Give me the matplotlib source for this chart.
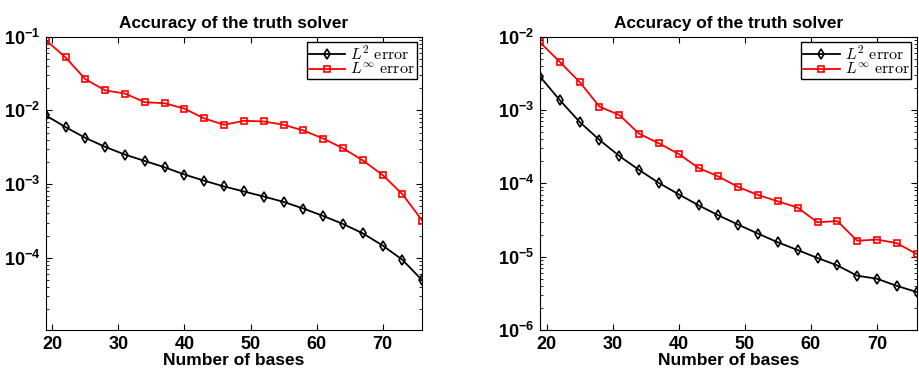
import numpy as np
import matplotlib as mpl
mpl.use('Agg')
import matplotlib.pyplot as plt
from matplotlib.ticker import LogLocator, NullFormatter

mpl.rcParams['mathtext.fontset'] = 'cm'
mpl.rcParams['font.family'] = 'Liberation Sans'

# number of bases
bases = np.arange(19, 77, 3)

# left panel
l2_left = [0.00855, 0.00593, 0.00424, 0.00320, 0.00251, 0.00206, 0.00169, 0.00135,
           0.00111, 0.00093, 0.000794, 0.000679, 0.000574, 0.000466, 0.00037,
           0.000288, 0.000215, 0.000147, 0.0000940, 0.0000495]
linf_left = [0.090, 0.0523, 0.0265, 0.0187, 0.0169, 0.0129, 0.0125, 0.01055,
             0.00778, 0.00638, 0.00722, 0.00708, 0.00638, 0.00534, 0.00415,
             0.00306, 0.00210, 0.00133, 0.00073, 0.00032]

# right panel
l2_right = [0.00285, 0.00136, 0.000686, 0.000390, 0.000236, 0.000152, 0.000101,
            0.0000708, 0.0000501, 0.0000366, 0.0000273, 0.0000206, 0.0000157,
            0.0000123, 0.0000096, 0.0000076, 0.0000055, 0.0000050, 0.0000040,
            0.0000033]
linf_right = [0.00837, 0.00452, 0.00241, 0.00111, 0.000855, 0.000475, 0.000351,
              0.000251, 0.000162, 0.000124, 0.0000891, 0.0000693, 0.0000569,
              0.0000466, 0.0000294, 0.0000306, 0.0000165, 0.0000171, 0.0000153,
              0.0000109]

panels = [
    (l2_left, linf_left, (1.05e-5, 1e-1), [1e-4, 1e-3, 1e-2, 1e-1]),
    (l2_right, linf_right, (1e-6, 1e-2), [1e-6, 1e-5, 1e-4, 1e-3, 1e-2]),
]

fig = plt.figure(figsize=(9.2, 3.71), dpi=100)
lefts = [0.0497, 0.587]

for left, (l2, linf, ylim, yt) in zip(lefts, panels):
    ax = fig.add_axes([left, 0.1105, 0.4093, 0.7907])
    ax.semilogy(bases, l2, '-', color='k', marker='d', mfc='none', ms=5, mew=1.2,
                lw=1.3, label=r'$L^2\ \mathrm{error}$')
    ax.semilogy(bases, linf, '-', color='red', marker='s', mfc='none', ms=4.5, mew=1.2,
                lw=1.3, label=r'$L^\infty\ \mathrm{error}$')
    ax.set_xlim(19, 76)
    ax.set_ylim(*ylim)
    ax.set_xticks([20, 30, 40, 50, 60, 70])
    ax.set_yticks(yt)
    ax.yaxis.set_minor_locator(LogLocator(base=10, subs=np.arange(2, 10)))
    ax.yaxis.set_minor_formatter(NullFormatter())
    ax.tick_params(which='both', direction='in', top=True, right=True)
    ax.tick_params(which='major', length=4, labelsize=13, pad=4)
    ax.tick_params(which='minor', length=2)
    for lab in ax.get_xticklabels() + ax.get_yticklabels():
        lab.set_fontweight('bold')
    ax.set_title('Accuracy of the truth solver', fontsize=12.4, fontweight='bold', pad=6)
    ax.set_xlabel('Number of bases', fontsize=12.5, fontweight='bold', labelpad=0.5)
    leg = ax.legend(loc='upper right', fontsize=11.5, fancybox=False, framealpha=1,
                    edgecolor='k', borderpad=0.1, labelspacing=-0.05, handlelength=2.3,
                    handletextpad=0.3, borderaxespad=0.35)
    leg.get_frame().set_linewidth(1.0)

fig.savefig('out.png', dpi=100)
